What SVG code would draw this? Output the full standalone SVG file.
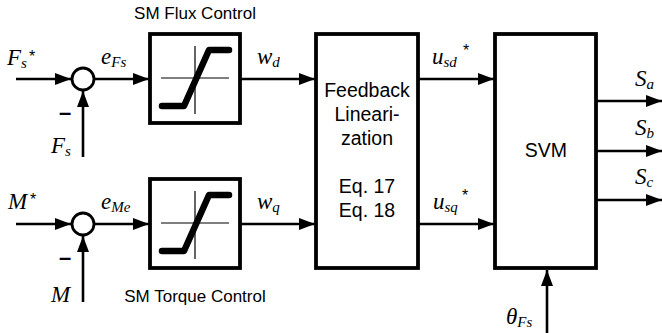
<svg xmlns="http://www.w3.org/2000/svg" width="662" height="333" viewBox="0 0 662 333">
<style>
.box{fill:#fff;stroke:#000;stroke-width:3.8}
.ln{fill:none;stroke:#000;stroke-width:2.6}
.thin{fill:none;stroke:#000;stroke-width:1.2}
.sat{fill:none;stroke:#000;stroke-width:6.5;stroke-linecap:round;stroke-linejoin:round}
.sym{font-family:"Liberation Serif",serif;font-style:italic;font-size:23px;fill:#000}
.sub{font-size:15px}
.star{font-family:"Liberation Sans",sans-serif;font-size:16px;fill:#000}
.lab{font-family:"Liberation Sans",Arial,sans-serif;font-size:17px;fill:#000}
.minus{font-family:"Liberation Sans",Arial,sans-serif;font-size:22px;font-weight:bold;fill:#000}
.blk{font-family:"Liberation Sans",Arial,sans-serif;font-size:19.5px;fill:#000;text-anchor:middle}
</style>
<defs>
<marker id="ah" markerUnits="userSpaceOnUse" markerWidth="17" markerHeight="12" refX="16" refY="6" orient="auto">
<path d="M0,0 L16,6 L0,12 z" fill="#000"/>
</marker>
</defs>
<rect width="662" height="333" fill="#fff"/>

<g id="connectors">
<path class="ln" d="M16,79 H71" marker-end="url(#ah)"/>
<path class="ln" d="M83,157 V91" marker-end="url(#ah)"/>
<path class="ln" d="M95,79 H149" marker-end="url(#ah)"/>
<path class="ln" d="M240,79 H315" marker-end="url(#ah)"/>
<path class="ln" d="M16,224 H71" marker-end="url(#ah)"/>
<path class="ln" d="M83,302 V236" marker-end="url(#ah)"/>
<path class="ln" d="M95,224 H149" marker-end="url(#ah)"/>
<path class="ln" d="M240,224 H315" marker-end="url(#ah)"/>
<path class="ln" d="M418,79 H494" marker-end="url(#ah)"/>
<path class="ln" d="M418,224 H494" marker-end="url(#ah)"/>
<path class="ln" d="M596,101 H662" marker-end="url(#ah)"/>
<path class="ln" d="M596,151 H662" marker-end="url(#ah)"/>
<path class="ln" d="M596,200 H662" marker-end="url(#ah)"/>
<path class="ln" d="M547,333 V270" marker-end="url(#ah)"/>
</g>

<g id="sum1">
<circle cx="83" cy="79" r="11" fill="#fff" stroke="#000" stroke-width="2.8"/>
</g>
<g id="sum2">
<circle cx="83" cy="224" r="11" fill="#fff" stroke="#000" stroke-width="2.8"/>
</g>

<g id="flux">
<rect class="box" x="150" y="34" width="90" height="89"/>
<path class="thin" d="M161,78 H229 M195,46 V114"/>
<path class="sat" d="M162,106 H184 L209,50 H229"/>
<text class="lab" x="195" y="19" text-anchor="middle">SM Flux Control</text>
</g>

<g id="torque">
<rect class="box" x="150" y="179" width="90" height="89"/>
<path class="thin" d="M161,223 H229 M195,191 V259"/>
<path class="sat" d="M162,251 H184 L209,195 H229"/>
<text class="lab" x="195" y="302" text-anchor="middle">SM Torque Control</text>
</g>

<g id="fl">
<rect class="box" x="316" y="34" width="102" height="234"/>
<text class="blk" x="367" y="97">Feedback</text>
<text class="blk" x="367" y="121">Lineari-</text>
<text class="blk" x="367" y="145">zation</text>
<text class="blk" x="367" y="193">Eq. 17</text>
<text class="blk" x="367" y="217">Eq. 18</text>
</g>

<g id="svm">
<rect class="box" x="495" y="34" width="101" height="234"/>
<text class="blk" x="546" y="157">SVM</text>
</g>

<g id="labels">
<text class="sym" x="7" y="65">F<tspan class="sub" dy="3">s</tspan></text>
<text class="star" x="29" y="62">*</text>
<text class="sym" x="51" y="153">F<tspan class="sub" dy="3">s</tspan></text>
<text class="minus" x="59" y="120">–</text>
<text class="sym" x="101" y="64">e<tspan class="sub" dy="3">Fs</tspan></text>
<text class="sym" x="257" y="64">w<tspan class="sub" dy="3">d</tspan></text>

<text class="sym" x="8" y="209">M</text>
<text class="star" x="30" y="205">*</text>
<text class="sym" x="51" y="302">M</text>
<text class="minus" x="59" y="265">–</text>
<text class="sym" x="101" y="209">e<tspan class="sub" dy="3">Me</tspan></text>
<text class="sym" x="257" y="209">w<tspan class="sub" dy="3">q</tspan></text>

<text class="sym" x="432" y="64">u<tspan class="sub" dy="3">sd</tspan></text>
<text class="star" x="463" y="56">*</text>
<text class="sym" x="433" y="209">u<tspan class="sub" dy="3">sq</tspan></text>
<text class="star" x="462" y="201">*</text>

<text class="sym" x="635" y="86">S<tspan class="sub" dy="3">a</tspan></text>
<text class="sym" x="635" y="135">S<tspan class="sub" dy="3">b</tspan></text>
<text class="sym" x="635" y="184">S<tspan class="sub" dy="3">c</tspan></text>

<text class="sym" x="506" y="324" font-style="normal">θ<tspan class="sub" dy="3" font-style="italic">Fs</tspan></text>
</g>
</svg>
